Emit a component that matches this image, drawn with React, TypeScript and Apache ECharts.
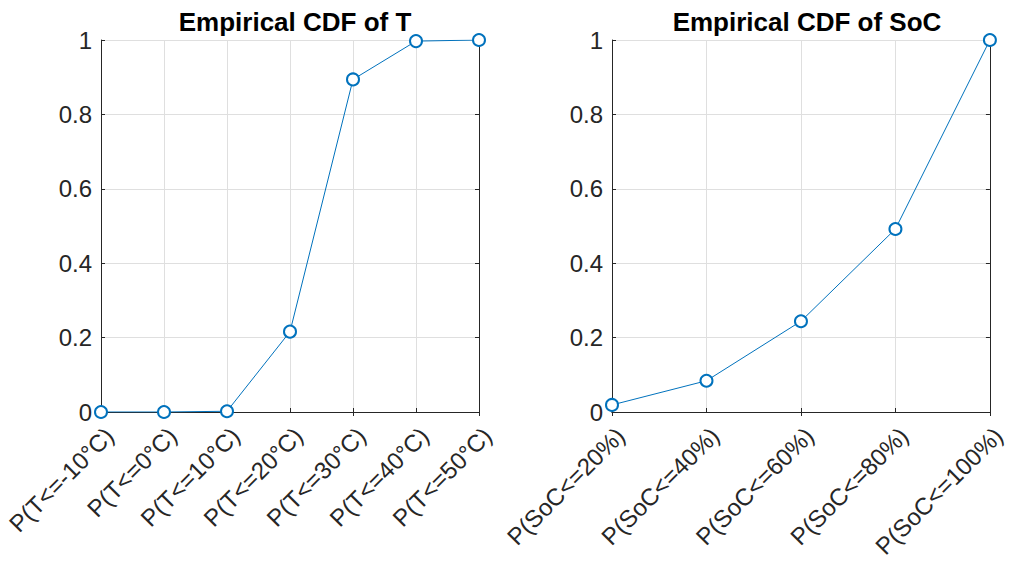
import React, { useEffect, useRef } from "react";
import * as echarts from "echarts";

const tCategories = ["P(T<=-10°C)", "P(T<=0°C)", "P(T<=10°C)", "P(T<=20°C)", "P(T<=30°C)", "P(T<=40°C)", "P(T<=50°C)"];
const tValues = [0, 0, 0.002, 0.216, 0.894, 0.997, 1.0];
const socCategories = ["P(SoC<=20%)", "P(SoC<=40%)", "P(SoC<=60%)", "P(SoC<=80%)", "P(SoC<=100%)"];
const socValues = [0.019, 0.084, 0.244, 0.492, 1.0];
const titles = ["Empirical CDF of T", "Empirical CDF of SoC"];

const FONT = "'Liberation Sans', Arial, Helvetica, sans-serif";
const AXIS = "#262626";
const BLUE = "#0072BD";

export default function App() {
  const ref = useRef<HTMLDivElement>(null);
  useEffect(() => {
    if (!ref.current) return;
    const chart = echarts.init(ref.current, null, { renderer: "svg" });
    const grids = [
      { left: 101, top: 40, width: 378, height: 372 },
      { left: 612, top: 40, width: 380, height: 372 },
    ];
    const cats = [tCategories, socCategories];
    const vals = [tValues, socValues];
    const xAxes: any[] = [];
    const yAxes: any[] = [];
    const series: any[] = [];
    [0, 1].forEach((i) => {
      xAxes.push({
        type: "category",
        gridIndex: i,
        data: cats[i],
        boundaryGap: false,
        axisLine: { show: true, lineStyle: { color: AXIS, width: 1 } },
        axisTick: { show: true, inside: true, length: 4, lineStyle: { color: AXIS } },
        axisLabel: {
          rotate: 45,
          interval: 0,
          fontSize: 24,
          fontFamily: FONT,
          color: AXIS,
          margin: 11,
          verticalAlign: "top",
        },
        splitLine: { show: true, lineStyle: { color: "#dfdfdf", width: 1 } },
      });
      xAxes.push({
        type: "category",
        gridIndex: i,
        position: "top",
        data: cats[i],
        boundaryGap: false,
        axisLine: { show: true, lineStyle: { color: AXIS, width: 1 } },
        axisTick: { show: true, inside: true, length: 4, lineStyle: { color: AXIS } },
        axisLabel: { show: false },
        splitLine: { show: false },
      });
      yAxes.push({
        type: "value",
        gridIndex: i,
        min: 0,
        max: 1,
        interval: 0.2,
        axisLine: { show: true, lineStyle: { color: AXIS, width: 1 } },
        axisTick: { show: true, inside: true, length: 4, lineStyle: { color: AXIS } },
        axisLabel: { fontSize: 24, fontFamily: FONT, color: AXIS, margin: 9 },
        splitLine: { show: true, lineStyle: { color: "#dfdfdf", width: 1 } },
      });
      yAxes.push({
        type: "value",
        gridIndex: i,
        position: "right",
        min: 0,
        max: 1,
        interval: 0.2,
        axisLine: { show: true, lineStyle: { color: AXIS, width: 1 } },
        axisTick: { show: true, inside: true, length: 4, lineStyle: { color: AXIS } },
        axisLabel: { show: false },
        splitLine: { show: false },
      });
      series.push({
        type: "line",
        xAxisIndex: i * 2,
        yAxisIndex: i * 2,
        data: vals[i],
        symbol: "emptyCircle",
        symbolSize: 12,
        lineStyle: { color: BLUE, width: 1 },
        itemStyle: { color: BLUE, borderColor: BLUE, borderWidth: 1.8 },
        z: 5,
      });
    });
    chart.setOption({
      animation: false,
      backgroundColor: "#ffffff",
      title: [
        {
          text: titles[0],
          left: 290,
          textAlign: "center",
          top: 4,
          textStyle: { fontSize: 26, fontWeight: "bold", fontFamily: FONT, color: "#000" },
        },
        {
          text: titles[1],
          left: 802,
          textAlign: "center",
          top: 4,
          textStyle: { fontSize: 26, fontWeight: "bold", fontFamily: FONT, color: "#000" },
        },
      ],
      grid: grids,
      xAxis: xAxes,
      yAxis: yAxes,
      series,
    });
    return () => chart.dispose();
  }, []);
  return (
    <div
      ref={ref}
      style={{ position: "fixed", left: 0, top: 0, width: 1009, height: 561 }}
    />
  );
}
